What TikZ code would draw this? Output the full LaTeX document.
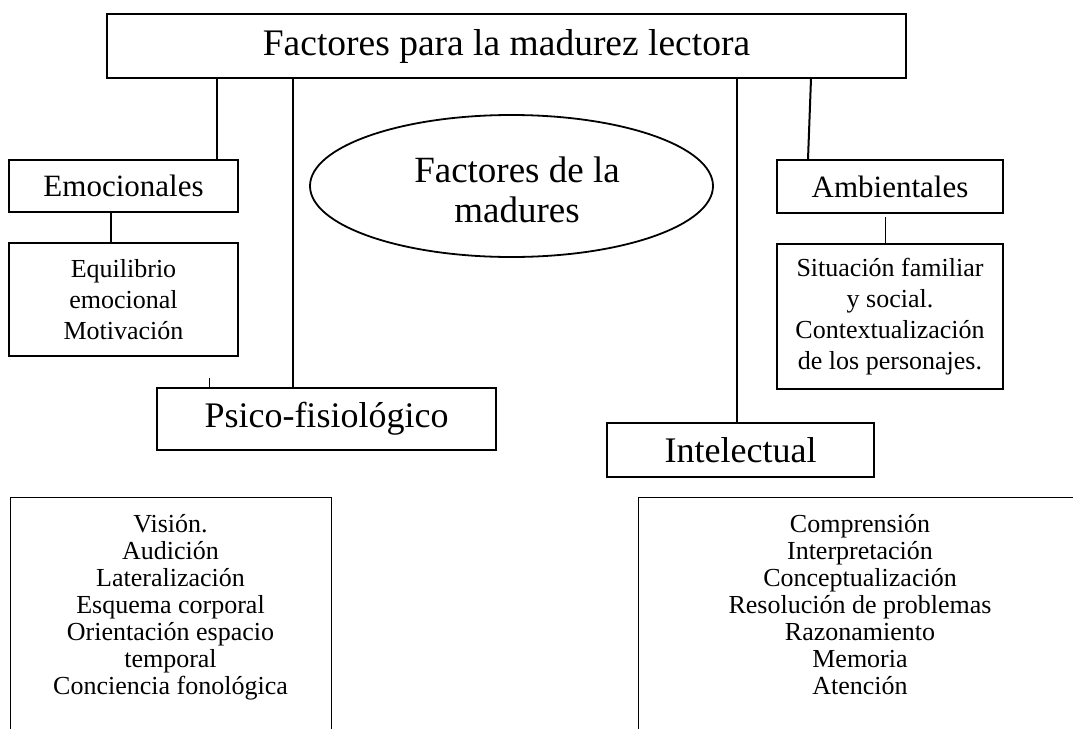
\documentclass[tikz,border=0pt]{standalone}
\usepackage{fontspec}
\setmainfont{Liberation Serif}
\usetikzlibrary{shapes.geometric}
\begin{document}
\begin{tikzpicture}[x=1pt,y=-1pt,
  box/.style={draw, rectangle, line width=1.3pt, inner sep=0pt, align=center},
  oval/.style={draw, ellipse, line width=1.8pt, inner sep=0pt},
  big/.style={font=\fontsize{36}{40}\selectfont},
  mid/.style={font=\fontsize{31}{36}\selectfont},
  small/.style={font=\fontsize{26}{31}\selectfont},
  lst/.style={align=center, inner sep=0pt, font=\fontsize{26}{27}\selectfont},
  conn/.style={line width=2pt},
  mconn/.style={line width=1.3pt},
  thinconn/.style={line width=0.9pt}]
\useasboundingbox (0,0) rectangle (1073,728);
\clip (0,0) rectangle (1073,728);

\node[box,font=\fontsize{37.5}{42}\selectfont,minimum width=799pt,minimum height=64pt] (top) at (506.5,46) {Factores para la madurez lectora};
\node[box,mid,minimum width=229pt,minimum height=52pt] (emo) at (123.5,186) {Emocionales};
\node[box,small,minimum width=229pt,minimum height=113pt] (equ) at (123.5,299.5) {Equilibrio\\emocional\\Motivación};
\node[box,big,minimum width=339pt,minimum height=62pt] (psi) at (326.5,419) {Psico-fisiológico};
\node[oval,minimum width=403pt,minimum height=142pt] (elli) at (511.5,186) {};
\node[align=center,inner sep=0pt,font=\fontsize{37}{40}\selectfont] (ellit) at (517,190) {Factores de la\\madures};
\node[box,mid,minimum width=226pt,minimum height=53pt] (amb) at (890,186.5) {Ambientales};
\node[box,small,minimum width=226pt,minimum height=145pt] (sit) at (890,316.5) {Situación familiar\\y social.\\Contextualización\\de los personajes.};
\node[box,big,minimum width=267pt,minimum height=54pt] (int) at (740.5,450) {Intelectual};

\node[box,minimum width=321pt,minimum height=260pt,anchor=north west] (fis) at (10,497) {};
\node[lst,anchor=north] (fist) at (170.5,514) {Visión.\\Audición\\Lateralización\\Esquema corporal\\Orientación espacio\\temporal\\Conciencia fonológica};
\node[box,minimum width=450pt,minimum height=260pt,anchor=north west] (intb) at (638,497) {};
\node[lst,anchor=north] (intt) at (860,514) {Comprensión\\Interpretación\\Conceptualización\\Resolución de problemas\\Razonamiento\\Memoria\\Atención};

\draw[conn] (217,0 |- top.south) -- (217,0 |- emo.north);
\draw[conn] (293,0 |- top.south) -- (293,0 |- psi.north);
\draw[conn] (737,0 |- top.south) -- (737,0 |- int.north);
\draw[conn] (811,0 |- top.south) -- (808,0 |- amb.north);
\draw[mconn] (111,0 |- emo.south) -- (111,0 |- equ.north);
\coordinate (ambt) at (885,217);
\draw[thinconn] (ambt) -- (ambt |- sit.north);
\coordinate (tick) at (209,378);
\draw[thinconn] (tick) -- (tick |- psi.north);
\end{tikzpicture}
\end{document}
